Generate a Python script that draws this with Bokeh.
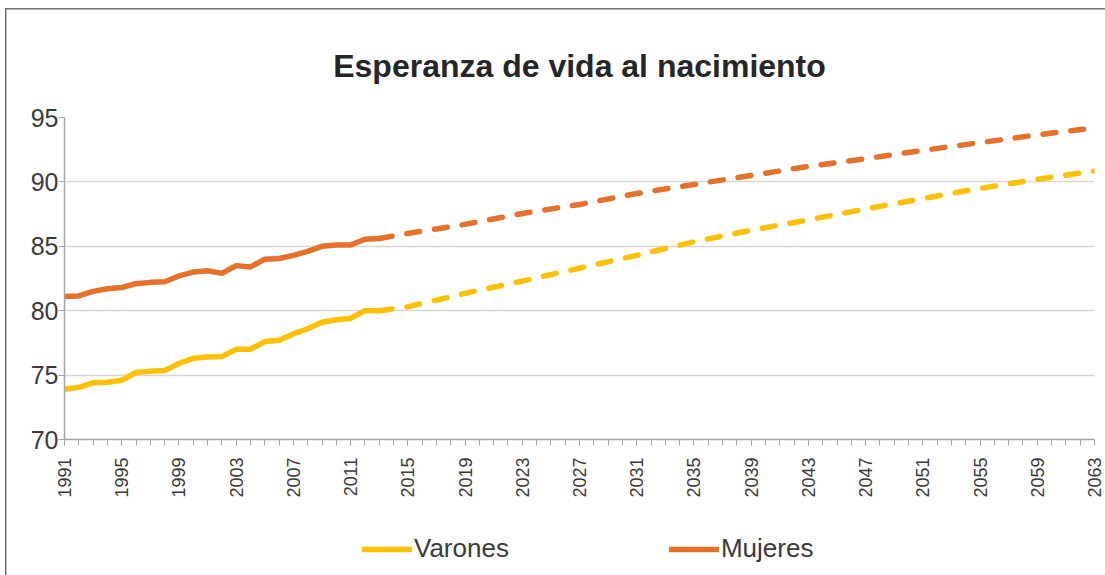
import math
from bokeh.plotting import figure
from bokeh.layouts import column
from bokeh.models import Range1d, FixedTicker, Legend, LegendItem
from bokeh.embed import file_html
from bokeh.resources import INLINE

# ---- data ----
years_hist = list(range(1991, 2014))
varones_hist = [73.9, 74.05, 74.4, 74.45, 74.6, 75.2, 75.3, 75.35, 75.9, 76.3, 76.4, 76.45,
                77.0, 77.0, 77.6, 77.7, 78.2, 78.6, 79.1, 79.3, 79.4, 80.0, 80.0]
mujeres_hist = [81.1, 81.15, 81.5, 81.7, 81.8, 82.1, 82.2, 82.25, 82.7, 83.0, 83.1, 82.9,
                83.5, 83.4, 84.0, 84.05, 84.3, 84.6, 85.0, 85.1, 85.1, 85.55, 85.6]

years_proj = [2013, 2015, 2019, 2023, 2027, 2031, 2035, 2039, 2043, 2047, 2051, 2055, 2059, 2063]
varones_proj = [80.0, 80.3, 81.35, 82.3, 83.3, 84.3, 85.35, 86.25, 87.05, 87.9, 88.7, 89.5, 90.2, 90.85]
mujeres_proj = [85.6, 86.0, 86.7, 87.55, 88.25, 89.1, 89.8, 90.5, 91.2, 91.8, 92.45, 93.05, 93.65, 94.2]

x_labels = list(range(1991, 2064, 4))
y_ticks = [70, 75, 80, 85, 90, 95]
title_text = "Esperanza de vida al nacimiento"
series_names = ["Varones", "Mujeres"]

C_VAR = "#FFC000"
C_MUJ = "#E5712B"
TXT = "#3a3a3a"
AXC = "#a6a6a6"
FONT = "Liberation Sans"
FRAME_C = "#6e6e6e"

p = figure(width=1105, height=500, output_backend="svg", toolbar_location=None,
           x_range=Range1d(1991, 2063), y_range=Range1d(70, 95),
           min_border_left=64, min_border_right=11, min_border_top=117, min_border_bottom=60)
p.outline_line_color = None
p.background_fill_color = "white"
p.border_fill_color = None

# title
p.title.text = title_text
p.title.align = "center"
p.title.text_font = FONT
p.title.text_font_style = "bold"
p.title.text_font_size = "32px"
p.title.text_color = "#262626"
p.title.standoff = 67

# axes
p.xaxis.ticker = FixedTicker(ticks=x_labels, minor_ticks=list(range(1991, 2064)))
p.xaxis.major_label_orientation = math.pi / 2
p.xaxis.major_label_text_font = FONT
p.xaxis.major_label_text_font_size = "18px"
p.xaxis.major_label_text_color = TXT
p.xaxis.major_label_standoff = 12
p.xaxis.axis_line_color = AXC
p.xaxis.axis_line_width = 1.5
p.xaxis.major_tick_line_color = AXC
p.xaxis.minor_tick_line_color = AXC
p.xaxis.major_tick_in = 0
p.xaxis.major_tick_out = 6
p.xaxis.minor_tick_in = 0
p.xaxis.minor_tick_out = 6

p.yaxis.ticker = FixedTicker(ticks=y_ticks)
p.yaxis.major_label_text_font = FONT
p.yaxis.major_label_text_font_size = "25px"
p.yaxis.major_label_text_color = TXT
p.yaxis.major_label_standoff = 0
p.yaxis.axis_line_color = AXC
p.yaxis.axis_line_width = 1.5
p.yaxis.major_tick_line_color = AXC
p.yaxis.major_tick_in = 0
p.yaxis.major_tick_out = 6
p.yaxis.minor_tick_line_color = None

p.xgrid.grid_line_color = None
p.ygrid.grid_line_color = "#d6d6d6"
p.ygrid.grid_line_width = 1.5

# lines
p.line(years_hist, varones_hist, line_color=C_VAR, line_width=5.5, line_join="round", line_cap="round")
p.line(years_hist, mujeres_hist, line_color=C_MUJ, line_width=5.5, line_join="round", line_cap="round")
p.line(years_proj, varones_proj, line_color=C_VAR, line_width=5.5, line_dash="13 15", line_cap="round", line_join="round")
p.line(years_proj, mujeres_proj, line_color=C_MUJ, line_width=5.5, line_dash="13 15", line_cap="round", line_join="round")

# legend strip (separate figure below the chart; its lines lie outside its view)
lg = figure(width=1105, height=75, output_backend="svg", toolbar_location=None,
            x_axis_type=None, y_axis_type=None, min_border=0,
            x_range=Range1d(0, 1), y_range=Range1d(0, 1))
lg.outline_line_color = None
lg.background_fill_color = None
lg.border_fill_color = None
lg.grid.grid_line_color = None
lv = lg.line(years_hist, varones_hist, line_color=C_VAR, line_width=5.5, line_cap="round")
lm = lg.line(years_hist, mujeres_hist, line_color=C_MUJ, line_width=5.5, line_cap="round")
legend = Legend(items=[LegendItem(label=series_names[0], renderers=[lv]),
                       LegendItem(label=series_names[1], renderers=[lm])],
                orientation="horizontal", location=(298, 11),
                glyph_width=50, glyph_height=26, label_standoff=2, spacing=160,
                padding=0, margin=0, border_line_color=None, background_fill_alpha=0,
                label_text_font=FONT, label_text_font_size="26px",
                label_text_color=TXT, label_height=26)
lg.add_layout(legend)

layout = column(p, lg, spacing=0)
# outer chart frame (left and top edges)
layout.styles = {
    "background-color": "white",
    "background-image": f"linear-gradient({FRAME_C},{FRAME_C}), linear-gradient({FRAME_C},{FRAME_C})",
    "background-position": "5px 8px, 5px 8px",
    "background-size": "1.5px 100%, 100% 1.5px",
    "background-repeat": "no-repeat",
}

open("out.html", "w").write(file_html(layout, INLINE))
